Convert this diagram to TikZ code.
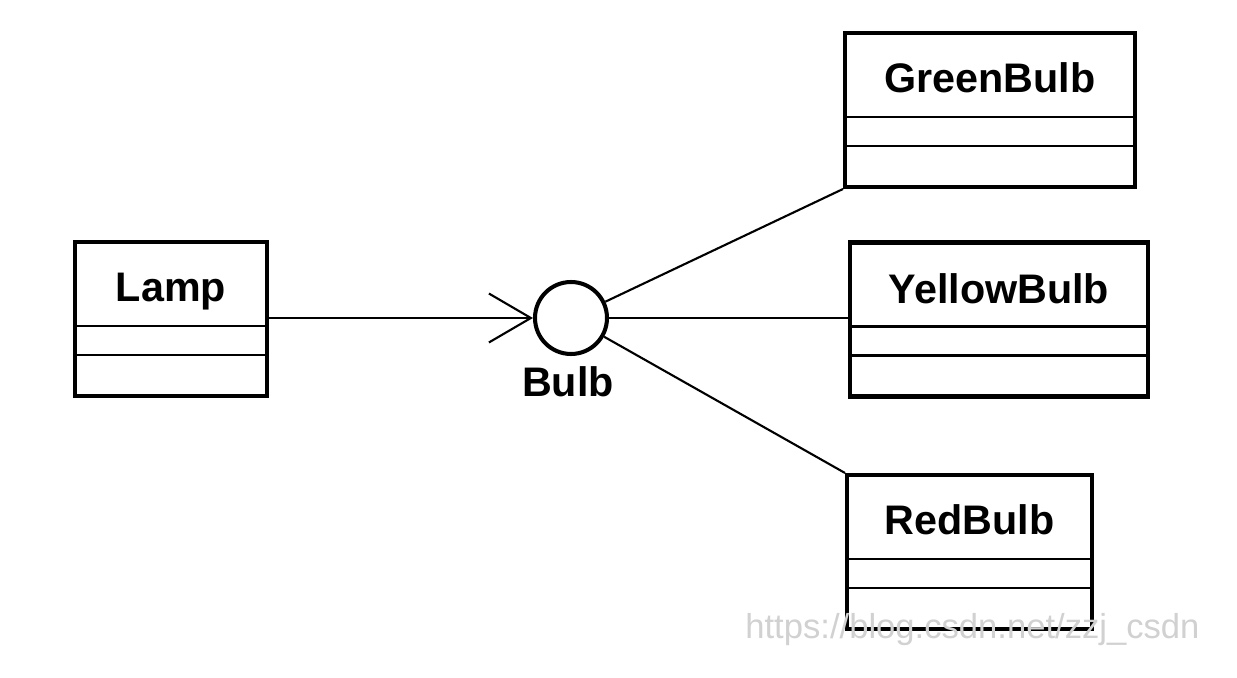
\documentclass[tikz,border=0pt]{standalone}
\usepackage{fontspec}
\setmainfont{Liberation Sans}
\usetikzlibrary{arrows.meta}
\tikzset{
  px/.style={x=0.02cm,y=-0.02cm},
  cls/.style={draw=black, line width=2.3pt, rectangle, inner sep=0pt, minimum height=3.08cm, fill=white},
  div/.style={draw=black, line width=1.2pt},
  title/.style={anchor=base, inner sep=0pt, font=\fontsize{23.5}{28}\selectfont\bfseries},
  conn/.style={draw=black, line width=1.2pt},
  iface/.style={draw=black, line width=2.3pt, circle, inner sep=0pt, minimum size=1.44cm, fill=white},
  wm/.style={anchor=base west, inner sep=0pt, text=black!18, font=\fontsize{19.7}{24}\selectfont}
}
\newcommand{\clsdividers}[1]{%
  \draw[div] ([yshift=-1.72cm]#1.north west) -- ([yshift=-1.72cm]#1.north east);
  \draw[div] ([yshift=-2.30cm]#1.north west) -- ([yshift=-2.30cm]#1.north east);}
\begin{document}
\begin{tikzpicture}[px]
\useasboundingbox[fill=white] (0,0) rectangle (1237,678);
% classes
\node[cls, minimum width=3.84cm] (lamp) at (171,319) {};
\node[cls, minimum width=5.80cm] (green) at (990,110) {};
\node[cls, minimum width=5.96cm] (yellow) at (999,319.5) {};
\node[cls, minimum width=4.90cm] (red) at (969.5,552) {};
\clsdividers{lamp}
\clsdividers{green}
\clsdividers{yellow}
\clsdividers{red}
\node[title] (lampT) at ([yshift=-1.24cm]lamp.north) {Lamp};
\node[title] (greenT) at ([yshift=-1.24cm]green.north) {GreenBulb};
\node[title] (yellowT) at ([yshift=-1.26cm]yellow.north) {YellowBulb};
\node[title] (redT) at ([yshift=-1.24cm]red.north) {RedBulb};
% interface
\node[iface] (bulb) at (571,318) {};
\node[title] (bulbT) at (568,397) {Bulb};
% connectors
\draw[conn, -{Straight Barb[length=0.84cm, width=0.98cm, line width=1.2pt]}] (lamp.east |- bulb.west) -- (bulb.west);
\draw[conn] (bulb) -- (green.south west);
\draw[conn] (bulb.east) -- (yellow.west |- bulb.east);
\draw[conn] (bulb) -- (red.north west);
% watermark
\node[wm] (wmark) at (745,638) {https://blog.csdn.net/zzj\_csdn};
\end{tikzpicture}
\end{document}
